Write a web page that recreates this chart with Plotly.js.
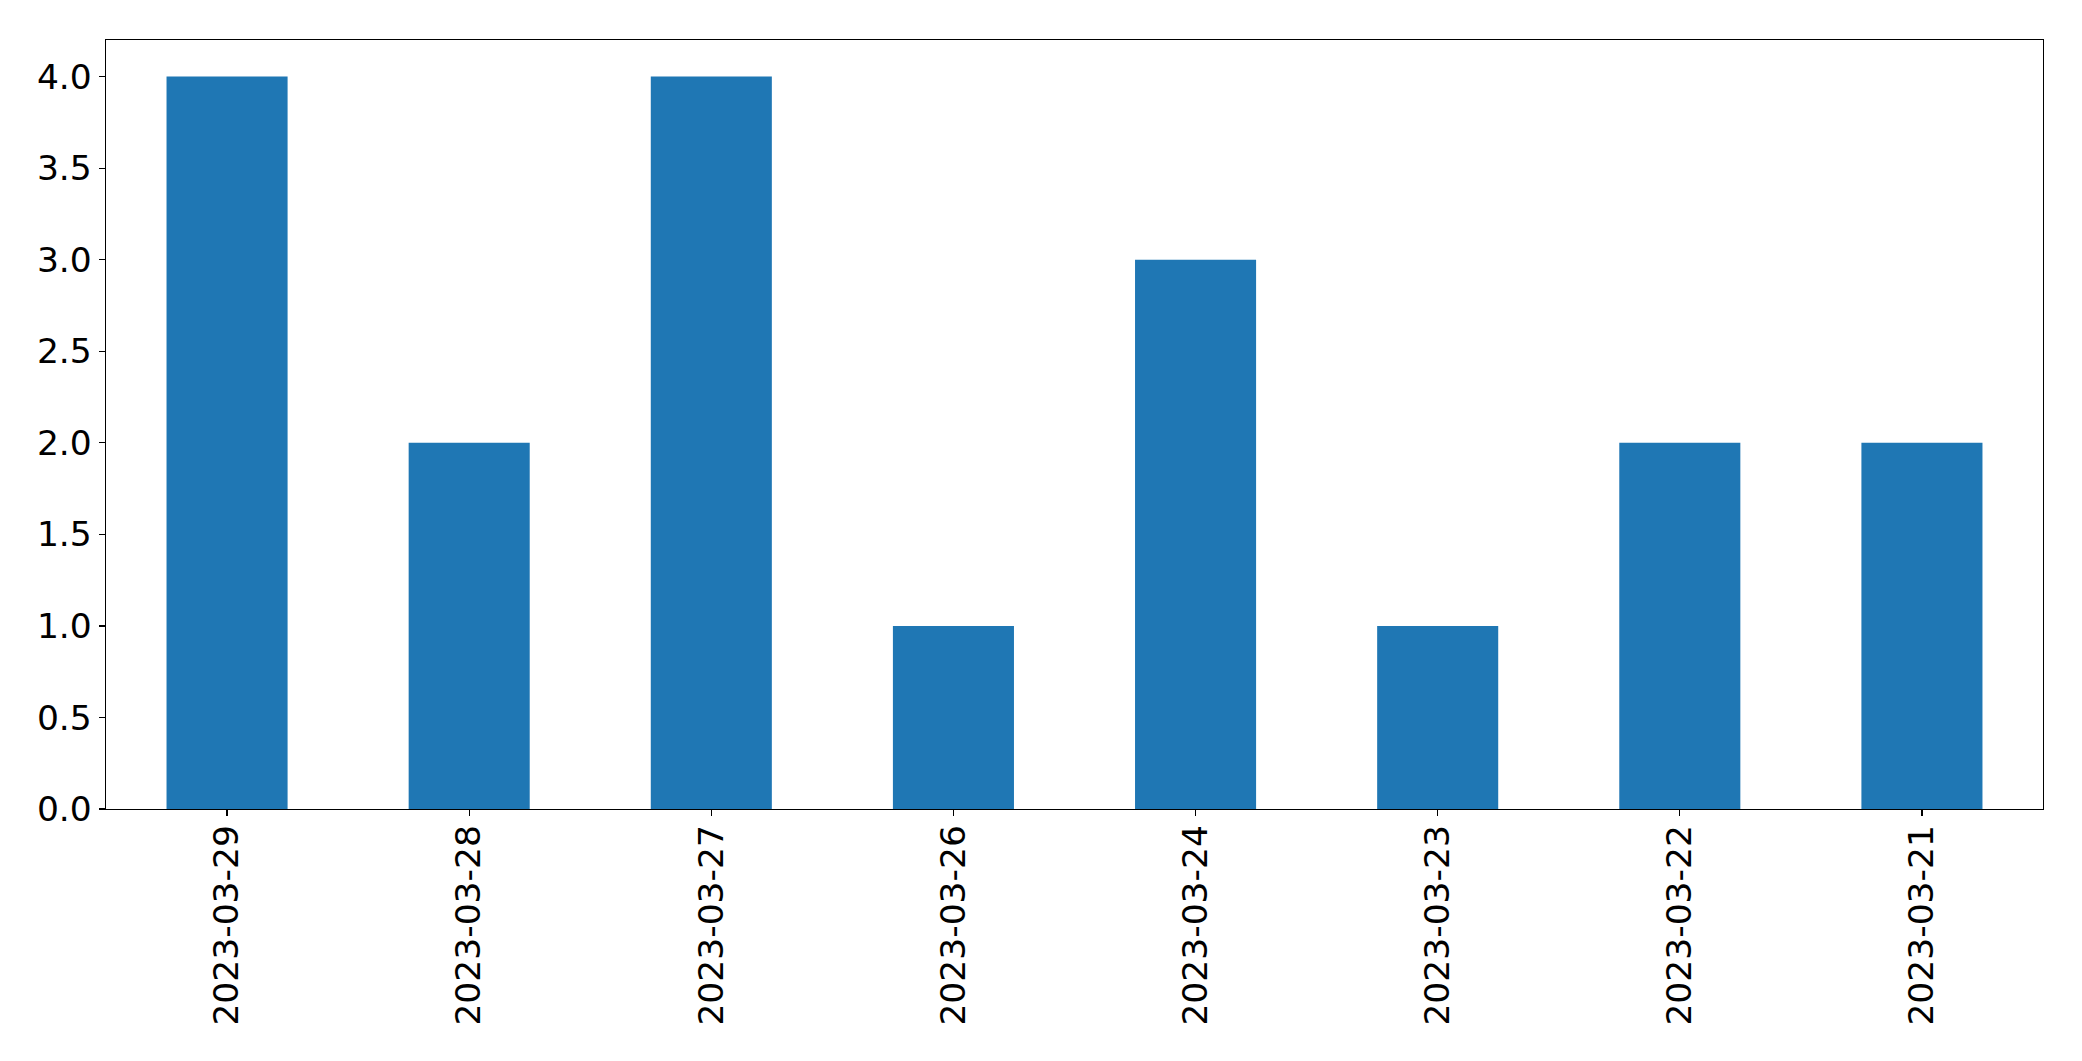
<!DOCTYPE html>
<html>
<head>
<meta charset="utf-8">
<script src="https://cdn.plot.ly/plotly-3.0.1.min.js"></script>
<style>html,body{margin:0;padding:0;background:#fff;}#chart{width:2082px;height:1061px;}</style>
</head>
<body>
<div id="chart"></div>
<script>
const categories = ["2023-03-29","2023-03-28","2023-03-27","2023-03-26","2023-03-24","2023-03-23","2023-03-22","2023-03-21"];
const values = [4, 2, 4, 1, 3, 1, 2, 2];
const yTickVals = [0, 0.5, 1, 1.5, 2, 2.5, 3, 3.5, 4];
const yTickText = ["0.0","0.5","1.0","1.5","2.0","2.5","3.0","3.5","4.0"];

const font = {family: "DejaVu Sans", size: 34.5, color: "#000"};
Plotly.newPlot("chart", [{
  type: "bar",
  x: categories,
  y: values,
  marker: {color: "#1f77b4", line: {width: 0}},
  hoverinfo: "x+y"
}], {
  width: 2082, height: 1061,
  margin: {l: 105.5, r: 38.5, t: 39.5, b: 252, pad: 0},
  paper_bgcolor: "#fff", plot_bgcolor: "#fff",
  bargap: 0.5,
  showlegend: false,
  font: font,
  xaxis: {
    type: "category",
    range: [-0.5, 7.5],
    tickangle: -90,
    ticklabelstandoff: -5,
    ticks: "outside", ticklen: 6, tickwidth: 1.3, tickcolor: "#000",
    showline: true, linecolor: "#000", linewidth: 1.3, mirror: true,
    showgrid: false, zeroline: false,
    tickfont: font
  },
  yaxis: {
    range: [0, 4.2],
    tickvals: yTickVals, ticktext: yTickText,
    ticks: "outside", ticklen: 6, tickwidth: 1.3, tickcolor: "#000",
    showline: true, linecolor: "#000", linewidth: 1.3, mirror: true,
    showgrid: false, zeroline: false,
    tickfont: font
  }
}, {displayModeBar: false, staticPlot: true});
</script>
</body>
</html>
